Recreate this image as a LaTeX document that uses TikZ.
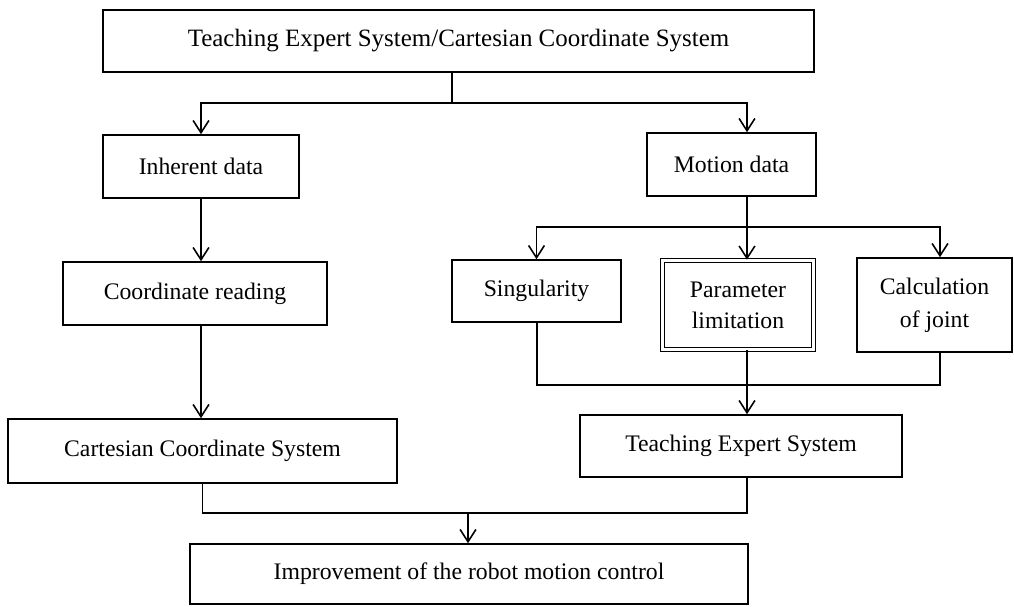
\documentclass[tikz,border=0pt]{standalone}
\usepackage{fontspec}
\setmainfont{Liberation Serif}
\usetikzlibrary{arrows.meta}

\tikzset{
    box/.style={draw, line width=0.9pt, inner sep=2pt, align=center,
        font=\fontsize{13.5}{17.5}\selectfont},
    dbox/.style={box, double, double distance=1.3pt, line width=0.9pt},
    link/.style={line width=0.9pt},
    arr/.style={link, -{Straight Barb[length=7pt, width=9pt, line width=0.9pt]}}
}

\begin{document}
\begin{tikzpicture}[x=0.02cm, y=-0.02cm]
    \useasboundingbox (0,0) rectangle (1014,606);

    \node[box, minimum width=14.22cm, minimum height=1.24cm, font=\fontsize{14.2}{17}\selectfont] (top) at (458.5,41) {Teaching Expert System/Cartesian Coordinate System};

    \node[box, minimum width=3.92cm, minimum height=1.26cm] (inherent) at (201,166.5) {Inherent data};
    \node[box, minimum width=3.38cm, minimum height=1.26cm] (motion) at (731.5,164.5) {Motion data};

    \node[box, minimum width=5.28cm, minimum height=1.26cm] (reading) at (195,293.5) {Coordinate reading};
    \node[box, minimum width=3.38cm, minimum height=1.24cm] (singular) at (536.5,291) {Singularity};
    \node[dbox, minimum width=3.02cm, minimum height=1.78cm] (param) at (738,305) {Parameter\\limitation};
    \node[box, minimum width=3.10cm, minimum height=1.88cm, font=\fontsize{13.5}{19}\selectfont] (joint) at (934.5,305) {Calculation\\of joint};

    \node[box, minimum width=7.78cm, minimum height=1.28cm] (cartesian) at (202.5,451) {Cartesian Coordinate System};
    \node[box, minimum width=6.44cm, minimum height=1.24cm] (teaching) at (741,446) {Teaching Expert System};

    \node[box, minimum width=11.16cm, minimum height=1.2cm] (improve) at (469,574) {Improvement of the robot motion control};

    % junction points
    \coordinate (split1) at (452,103);
    \coordinate (mcol) at (747,0);
    \coordinate (split2) at (747,227);
    \coordinate (merge1) at (537,385);
    \coordinate (merge2) at (468,513);

    \draw[link] (top.south -| split1) -- (split1);
    \draw[arr] (split1) -| (inherent.north);
    \draw[arr] (split1) -| (motion.north -| mcol);

    \draw[arr] (inherent.south) -- (inherent.south |- reading.north);
    \draw[arr] (inherent.south |- reading.south) -- (inherent.south |- cartesian.north);

    \draw[link] (motion.south -| mcol) -- (split2);
    \draw[arr] (split2) -| (singular.north |- split2) -- (singular.north);
    \draw[arr] (split2) -- (param.north -| mcol);
    \draw[arr] (split2) -| ([xshift=0.11cm]joint.north);

    \draw[link] (singular.south -| merge1) -- (merge1) -| ([xshift=0.11cm]joint.south);
    \draw[arr] (param.south -| mcol) -- (teaching.north -| mcol);

    \draw[link] (cartesian.south) -- (cartesian.south |- merge2) -| (teaching.south -| mcol);
    \draw[arr] (merge2) -- (improve.north -| merge2);
\end{tikzpicture}
\end{document}
